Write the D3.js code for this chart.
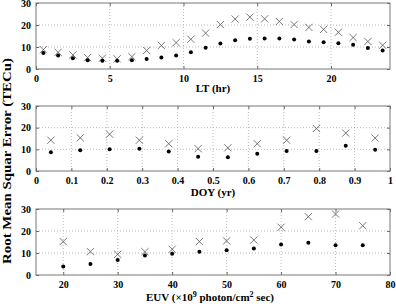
<!DOCTYPE html>
<html>
<head>
<meta charset="utf-8">
<script src="https://cdn.jsdelivr.net/npm/d3@7"></script>
<style>
  body { margin: 0; background: #fff; }
  svg { display: block; }
  .tick text { font-family: "Liberation Serif", "Times New Roman", serif; font-weight: bold; font-size: 10px; fill: #000; }
  .lbl { font-family: "Liberation Serif", "Times New Roman", serif; font-weight: bold; font-size: 11px; fill: #000; }
</style>
</head>
<body>
<svg id="chart" width="396" height="304"></svg>
<script>
// LT panel (hr)
const ltX = [0.5, 1.5, 2.5, 3.5, 4.5, 5.5, 6.5, 7.5, 8.5, 9.5, 10.5, 11.5,
             12.5, 13.5, 14.5, 15.5, 16.5, 17.5, 18.5, 19.5, 20.5, 21.5, 22.5, 23.5];
const ltCross = [8.8, 7.6, 6.4, 5.2, 4.9, 4.6, 5.6, 8.4, 10.7, 12.0, 13.5, 16.3,
                 20.2, 22.7, 23.6, 22.8, 21.6, 20.2, 18.9, 18.0, 16.7, 14.3, 12.5, 10.8];
const ltDot = [7.3, 6.1, 4.9, 4.0, 3.7, 3.7, 4.0, 4.6, 5.2, 6.1, 7.6, 9.7,
               11.6, 13.1, 13.7, 13.9, 13.9, 13.4, 12.5, 12.2, 11.7, 11.0, 9.6, 8.4];

// DOY panel (yr)
const doyX = [0.042, 0.125, 0.208, 0.292, 0.375, 0.458, 0.542, 0.625, 0.708, 0.792, 0.875, 0.958];
const doyCross = [14.2, 15.3, 17.0, 14.2, 12.6, 10.3, 10.7, 12.6, 14.2, 19.6, 17.5, 15.2];
const doyDot = [8.7, 9.6, 10.0, 10.3, 9.0, 6.6, 6.4, 8.0, 9.2, 9.2, 11.6, 9.8];

// EUV panel
const euvX = [20, 25, 30, 35, 40, 45, 50, 55, 60, 65, 70, 75];
const euvCross = [15.2, 10.6, 9.4, 10.6, 11.7, 15.2, 15.5, 15.9, 21.7, 26.5, 27.7, 22.4];
const euvDot = [3.9, 5.0, 6.8, 8.9, 9.7, 10.6, 11.2, 12.1, 13.9, 14.7, 13.5, 13.5];

const yTicks = [0, 10, 20, 30];

const svg = d3.select('#chart');
const left = 36, right = 390;

const panels = [
  {top: 3, bottom: 69, domain: [0, 24], ticks: [0, 5, 10, 15, 20], fmt: d3.format('d'),
   xs: ltX, cross: ltCross, dot: ltDot, label: 'LT (hr)', labelY: 92},
  {top: 106, bottom: 171, domain: [0, 1], ticks: d3.range(0, 11).map(i => i / 10), fmt: d => d === 0 || d === 1 ? String(d) : d3.format('.1f')(d),
   xs: doyX, cross: doyCross, dot: doyDot, label: 'DOY (yr)', labelY: 196},
  {top: 209, bottom: 275, domain: [15, 80], ticks: [20, 30, 40, 50, 60, 70, 80], fmt: d3.format('d'),
   xs: euvX, cross: euvCross, dot: euvDot, label: null, labelY: 301}
];

panels.forEach(p => {
  const x = d3.scaleLinear().domain(p.domain).range([left, right]);
  const y = d3.scaleLinear().domain([0, 30]).range([p.bottom, p.top]);
  const g = svg.append('g');

  // grid
  g.append('g').selectAll('line.gx').data(p.ticks.filter(t => t > p.domain[0] && t < p.domain[1]))
    .enter().append('line')
    .attr('x1', d => x(d)).attr('x2', d => x(d)).attr('y1', p.top).attr('y2', p.bottom)
    .attr('stroke', '#aaa').attr('stroke-width', 0.8).attr('stroke-dasharray', '1,2');
  g.append('g').selectAll('line.gy').data(yTicks.filter(t => t > 0 && t < 30))
    .enter().append('line')
    .attr('x1', left).attr('x2', right).attr('y1', d => y(d)).attr('y2', d => y(d))
    .attr('stroke', '#aaa').attr('stroke-width', 0.8).attr('stroke-dasharray', '1,2');

  // axes (ticks inward)
  const xAx = g.append('g').attr('transform', `translate(0,${p.bottom})`)
    .call(d3.axisBottom(x).tickValues(p.ticks).tickFormat(p.fmt).tickSizeInner(-3).tickSizeOuter(0).tickPadding(6));
  const xTop = g.append('g').attr('transform', `translate(0,${p.top})`)
    .call(d3.axisTop(x).tickValues(p.ticks).tickFormat('').tickSizeInner(-3).tickSizeOuter(0));
  const yAx = g.append('g').attr('transform', `translate(${left},0)`)
    .call(d3.axisLeft(y).tickValues(yTicks).tickSizeInner(-3).tickSizeOuter(0).tickPadding(5));
  const yR = g.append('g').attr('transform', `translate(${right},0)`)
    .call(d3.axisRight(y).tickValues(yTicks).tickFormat('').tickSizeInner(-3).tickSizeOuter(0));
  [xAx, xTop, yAx, yR].forEach(a => {
    a.select('.domain').remove();
    a.selectAll('.tick line').attr('stroke', '#666');
  });

  g.append('rect').attr('x', left).attr('y', p.top)
    .attr('width', right - left).attr('height', p.bottom - p.top)
    .attr('fill', 'none').attr('stroke', '#777').attr('stroke-width', 1);

  // crosses
  const s = 3.6;
  g.append('g').selectAll('path').data(p.xs)
    .enter().append('path')
    .attr('d', (d, i) => {
      const cx = x(d), cy = y(p.cross[i]);
      return `M${cx - s},${cy - s}L${cx + s},${cy + s}M${cx - s},${cy + s}L${cx + s},${cy - s}`;
    })
    .attr('stroke', '#555').attr('stroke-width', 0.8).attr('fill', 'none');

  // dots
  g.append('g').selectAll('circle').data(p.xs)
    .enter().append('circle')
    .attr('cx', d => x(d)).attr('cy', (d, i) => y(p.dot[i]))
    .attr('r', 2).attr('fill', '#000');

  if (p.label) {
    svg.append('text').attr('class', 'lbl').attr('x', 213).attr('y', p.labelY)
      .attr('text-anchor', 'middle').text(p.label);
  }
});

// EUV label with superscripts
const euv = svg.append('text').attr('class', 'lbl').attr('x', 210).attr('y', 301).attr('text-anchor', 'middle');
euv.append('tspan').text('EUV (×10');
euv.append('tspan').attr('dy', -4).attr('font-size', '8px').text('9');
euv.append('tspan').attr('dy', 4).text(' photon/cm');
euv.append('tspan').attr('dy', -4).attr('font-size', '8px').text('2');
euv.append('tspan').attr('dy', 4).text(' sec)');

svg.append('text').attr('class', 'lbl')
  .attr('transform', 'translate(11,161) rotate(-90)')
  .attr('text-anchor', 'middle')
  .style('font-size', '12px')
  .attr('textLength', 206).attr('lengthAdjust', 'spacingAndGlyphs')
  .text('Root Mean Squar Error (TECu)');
</script>
</body>
</html>
